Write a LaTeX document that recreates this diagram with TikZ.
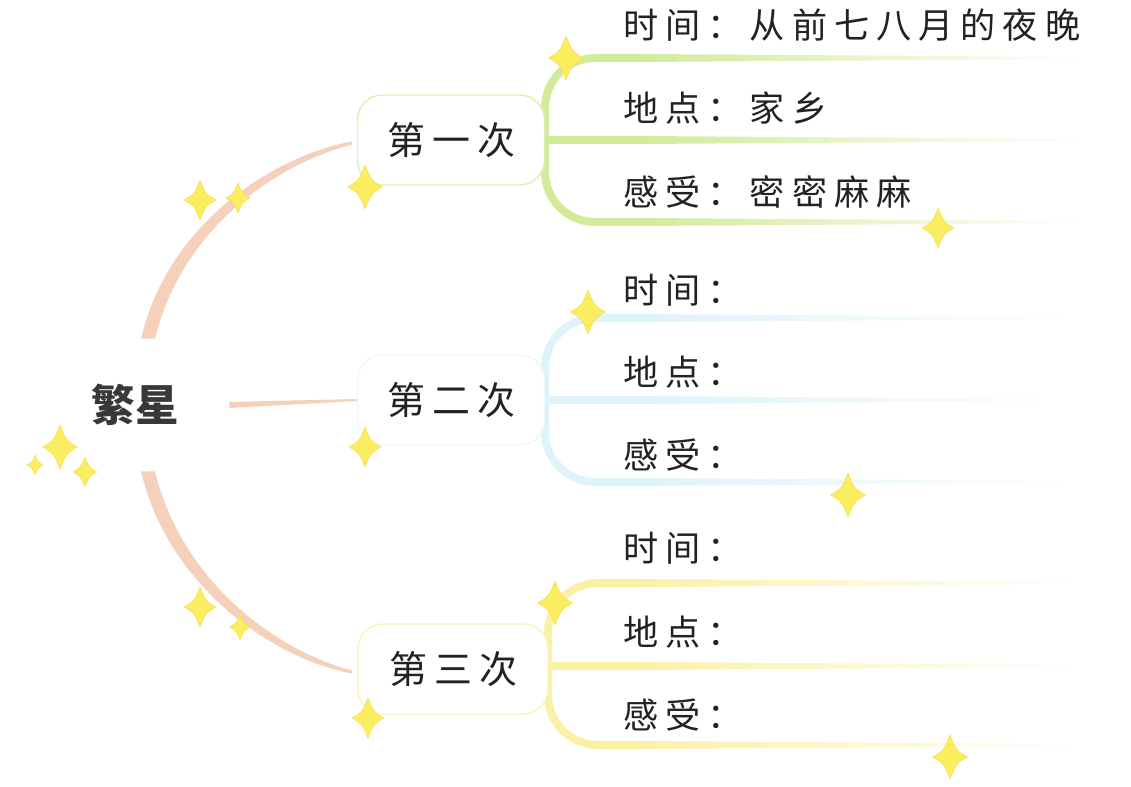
\documentclass[tikz,border=0pt]{standalone}
\usepackage{fontspec}
\setmainfont{Noto Sans CJK SC}
\usetikzlibrary{calc}
\definecolor{lgreen}{RGB}{210,235,155}
\definecolor{lblue}{RGB}{222,243,250}
\definecolor{lyellow}{RGB}{250,241,165}
\definecolor{lorange}{RGB}{245,208,186}
\definecolor{spark}{RGB}{250,238,96}
\definecolor{ink}{RGB}{34,34,34}

% spread CJK characters a little apart
\newcommand\spgap{0pt}
\newcommand\spaced[2]{\renewcommand\spgap{#1}\spacedfirst#2\relax}
\def\spacedfirst#1{#1\spacednext}
\def\spacednext#1{\ifx#1\relax\else\hspace{\spgap}#1\expandafter\spacednext\fi}

\tikzset{
    mainnode/.style={font=\fontsize{31}{36}\selectfont\bfseries, text=ink!90, minimum width=4.7cm, minimum height=3.3cm, inner sep=0pt},
    branchbox/.style={draw, line width=1pt, rounded corners=0.62cm, fill=white, minimum width=4.675cm, minimum height=2.25cm, font=\fontsize{27}{32}\selectfont, text=ink, inner sep=0pt},
    leaf/.style={anchor=west, font=\fontsize{25}{30}\selectfont, text=ink, inner sep=0pt},
    conn/.style={fill=lorange},
    bracket/.style={line width=0.2cm, rounded corners=1.25cm},
    sparkle/.pic={
        \fill[spark, draw=spark!80!orange, line width=0.3pt] (0,-10) .. controls (2.9,-2.9) .. (8,0) .. controls (2.9,2.9) .. (0,10) .. controls (-2.9,2.9) .. (-8,0) .. controls (-2.9,-2.9) .. (0,-10) -- cycle;
    },
}

\begin{document}
\begin{tikzpicture}[x=0.025cm, y=-0.025cm]
\useasboundingbox (0,0) rectangle (1131,787);

% Root and the three branches
\node[mainnode] (root) at (135,405) {繁星};
\coordinate (ua) at ($(root.north)+(13,0)$);
\coordinate (da) at ($(root.south)+(13,0)$);

% root connectors (tapered)
\coordinate (ub) at (352,143);
\coordinate (db) at (352,672);
\fill[conn] ($(ua)+(-7,0)$) .. controls ($(ua)+(20,-115)$) and ($(ub)+(-79,13)$) .. ($(ub)+(0,-1.5)$)
    -- ($(ub)+(0,1.5)$) .. controls ($(ub)+(-75,21)$) and ($(ua)+(34,-111)$) .. ($(ua)+(7,0)$) -- cycle;
\fill[conn] ($(da)+(-7,0)$) .. controls ($(da)+(20,115)$) and ($(db)+(-79,-13)$) .. ($(db)+(0,1.5)$)
    -- ($(db)+(0,-1.5)$) .. controls ($(db)+(-75,-21)$) and ($(da)+(34,111)$) .. ($(da)+(7,0)$) -- cycle;

% Group 1: green
\coordinate (g1a) at (640,58);
\coordinate (g1b) at (640,140);
\coordinate (g1c) at (640,222);
\draw[bracket, lgreen] (545,140) |- (g1a);
\draw[bracket, lgreen] (545,140) -- (g1b);
\draw[bracket, lgreen] (545,140) |- (g1c);
\shade[left color=lgreen, middle color=lgreen, right color=white] ($(g1a)+(0,-4)$) -- (1090,57) -- (1090,59) -- ($(g1a)+(0,4)$) -- cycle;
\shade[left color=lgreen, middle color=lgreen, right color=white] ($(g1b)+(0,-4)$) -- (1090,139) -- (1090,141) -- ($(g1b)+(0,4)$) -- cycle;
\shade[left color=lgreen, middle color=lgreen, right color=white] ($(g1c)+(0,-4)$) -- (1090,221) -- (1090,223) -- ($(g1c)+(0,4)$) -- cycle;

% Group 2: blue
\coordinate (g2a) at (640,318);
\coordinate (g2b) at (640,400);
\coordinate (g2c) at (640,482);
\draw[bracket, lblue] (545,400) |- (g2a);
\draw[bracket, lblue] (545,400) -- (g2b);
\draw[bracket, lblue] (545,400) |- (g2c);
\shade[left color=lblue, middle color=lblue, right color=white] ($(g2a)+(0,-4)$) -- (1085,317) -- (1085,319) -- ($(g2a)+(0,4)$) -- cycle;
\shade[left color=lblue, middle color=lblue, right color=white] ($(g2b)+(0,-4)$) -- (1085,399) -- (1085,401) -- ($(g2b)+(0,4)$) -- cycle;
\shade[left color=lblue, middle color=lblue, right color=white] ($(g2c)+(0,-4)$) -- (1085,481) -- (1085,483) -- ($(g2c)+(0,4)$) -- cycle;

% Group 3: yellow
\coordinate (g3a) at (640,583);
\coordinate (g3b) at (640,666);
\coordinate (g3c) at (640,745);
\draw[bracket, lyellow] (548,668) |- (g3a);
\draw[bracket, lyellow] (548,666) -- (g3b);
\draw[bracket, lyellow] (548,668) |- (g3c);
\shade[left color=lyellow, middle color=lyellow, right color=white] ($(g3a)+(0,-4)$) -- (1088,582) -- (1088,584) -- ($(g3a)+(0,4)$) -- cycle;
\shade[left color=lyellow, middle color=lyellow, right color=white] ($(g3b)+(0,-4)$) -- (1088,665) -- (1088,667) -- ($(g3b)+(0,4)$) -- cycle;
\shade[left color=lyellow, middle color=lyellow, right color=white] ($(g3c)+(0,-4)$) -- (1088,744) -- (1088,746) -- ($(g3c)+(0,4)$) -- cycle;

% branch boxes
\node[branchbox, draw=lgreen!75] (first) at (451,140) {\spaced{5pt}{第一次}};
\node[branchbox, draw=lblue!60] (second) at (451,400) {\spaced{5pt}{第二次}};
\node[branchbox, draw=lyellow!80, minimum width=4.75cm] (third) at (453,669) {\spaced{5pt}{第三次}};

\fill[conn] ($(root.east)+(0,-3)$) -- ($(second.west)+(0,-1)$) -- ($(second.west)+(0,1)$) -- ($(root.east)+(0,3)$) -- cycle;

% leaves
\node[leaf] (time1) at (623,25) {\spaced{5pt}{时间：从前七八月的夜晚}};
\node[leaf] (place1) at (623,108) {\spaced{5pt}{地点：家乡}};
\node[leaf] (feel1) at (623,192) {\spaced{5pt}{感受：密密麻麻}};
\node[leaf] (time2) at (623,290) {\spaced{5pt}{时间：}};
\node[leaf] (place2) at (623,372) {\spaced{5pt}{地点：}};
\node[leaf] (feel2) at (623,455) {\spaced{5pt}{感受：}};
\node[leaf] (time3) at (623,548) {\spaced{5pt}{时间：}};
\node[leaf] (place3) at (623,632) {\spaced{5pt}{地点：}};
\node[leaf] (feel3) at (623,715) {\spaced{5pt}{感受：}};

% sparkles
\pic[scale=2.2] at (566,58) {sparkle};
\pic[scale=2.0] at (200,200) {sparkle};
\pic[scale=1.5] at (238,198) {sparkle};
\pic[scale=2.2] at (365,187) {sparkle};
\pic[scale=2.0] at (938,228) {sparkle};
\pic[scale=2.2] at (588,312) {sparkle};
\pic[scale=2.0] at (365,447) {sparkle};
\pic[scale=2.2] at (60,447) {sparkle};
\pic[scale=1.5] at (85,472) {sparkle};
\pic[scale=1.0] at (35,465) {sparkle};
\pic[scale=2.2] at (848,495) {sparkle};
\pic[scale=2.2] at (555,603) {sparkle};
\pic[scale=2.0] at (200,607) {sparkle};
\pic[scale=1.3] at (240,627) {sparkle};
\pic[scale=2.0] at (368,718) {sparkle};
\pic[scale=2.2] at (950,757) {sparkle};

\end{tikzpicture}
\end{document}
